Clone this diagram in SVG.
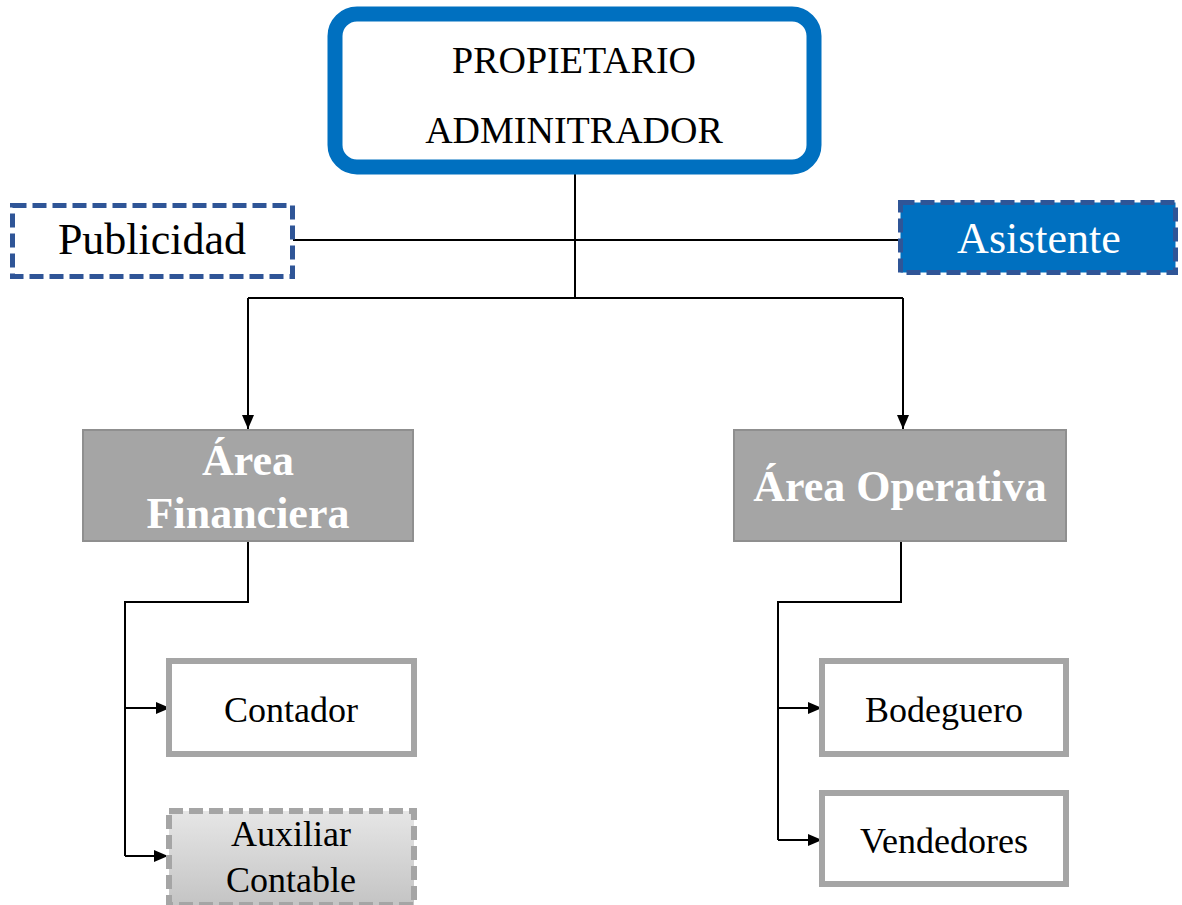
<svg xmlns="http://www.w3.org/2000/svg" width="1182" height="905" viewBox="0 0 1182 905">
<style>
text{font-family:"Liberation Serif","Times New Roman",serif;text-anchor:middle}
.line{fill:none;stroke:#000;stroke-width:2}
.area{fill:#A5A5A5;stroke:#8F8F8F;stroke-width:2}
.areaT{fill:#fff;font-weight:bold;font-size:44px}
.box{fill:#fff;stroke:#A5A5A5;stroke-width:6}
.lbl{fill:#000;font-size:36px}
</style>
<defs>
<marker id="arr" viewBox="0 0 14 12" refX="14" refY="6" markerWidth="14" markerHeight="12" markerUnits="userSpaceOnUse" orient="auto">
<path d="M0,0 L14,6 L0,12 z" fill="#000"/>
</marker>
<linearGradient id="aux" x1="0" y1="0" x2="0" y2="1">
<stop offset="0" stop-color="#E6E6E6"/>
<stop offset="1" stop-color="#C4C4C4"/>
</linearGradient>
</defs>
<rect width="1182" height="905" fill="#fff"/>
<g id="connectors">
<path class="line" d="M575,167 V298"/>
<path class="line" d="M293,240 H899"/>
<path class="line" d="M248,298 H903"/>
<path class="line" d="M248,298 V429" marker-end="url(#arr)"/>
<path class="line" d="M903,298 V429" marker-end="url(#arr)"/>
<path class="line" d="M248,542 V602 H125 V856"/>
<path class="line" d="M125,708 H170" marker-end="url(#arr)"/>
<path class="line" d="M125,856 H168" marker-end="url(#arr)"/>
<path class="line" d="M901,542 V602 H778 V840"/>
<path class="line" d="M778,708 H822" marker-end="url(#arr)"/>
<path class="line" d="M778,840 H822" marker-end="url(#arr)"/>
</g>
<g id="propietario">
<rect x="335" y="14" width="479" height="153" rx="22" fill="#fff" stroke="#0070C0" stroke-width="15"/>
<text x="574" y="73" font-size="38px">PROPIETARIO</text>
<text x="574" y="143" font-size="38px">ADMINITRADOR</text>
</g>
<g id="publicidad">
<rect x="12.5" y="205.5" width="280" height="71" fill="#fff" stroke="#2F5597" stroke-width="5" stroke-dasharray="14,6"/>
<text x="152" y="254" font-size="44px">Publicidad</text>
</g>
<g id="asistente">
<rect x="900.5" y="202.5" width="275" height="70" fill="#0070C0" stroke="#2F5597" stroke-width="5" stroke-dasharray="14,6"/>
<text x="1039" y="253" font-size="44px" fill="#fff">Asistente</text>
</g>
<g id="area-financiera">
<rect class="area" x="83" y="430" width="330" height="111"/>
<text class="areaT" x="248" y="475">Área</text>
<text class="areaT" x="248" y="528">Financiera</text>
</g>
<g id="area-operativa">
<rect class="area" x="734" y="430" width="332" height="111"/>
<text class="areaT" x="900" y="501">Área Operativa</text>
</g>
<g id="contador">
<rect class="box" x="169" y="661" width="245" height="93"/>
<text class="lbl" x="291" y="722">Contador</text>
</g>
<g id="auxiliar">
<rect x="169" y="811" width="245" height="94" fill="url(#aux)" stroke="#A5A5A5" stroke-width="6" stroke-dasharray="14,6"/>
<text class="lbl" x="291" y="846">Auxiliar</text>
<text class="lbl" x="291" y="892">Contable</text>
</g>
<g id="bodeguero">
<rect class="box" x="822" y="661" width="244" height="93"/>
<text class="lbl" x="944" y="722">Bodeguero</text>
</g>
<g id="vendedores">
<rect class="box" x="822" y="793" width="244" height="91"/>
<text class="lbl" x="944" y="853">Vendedores</text>
</g>
</svg>
